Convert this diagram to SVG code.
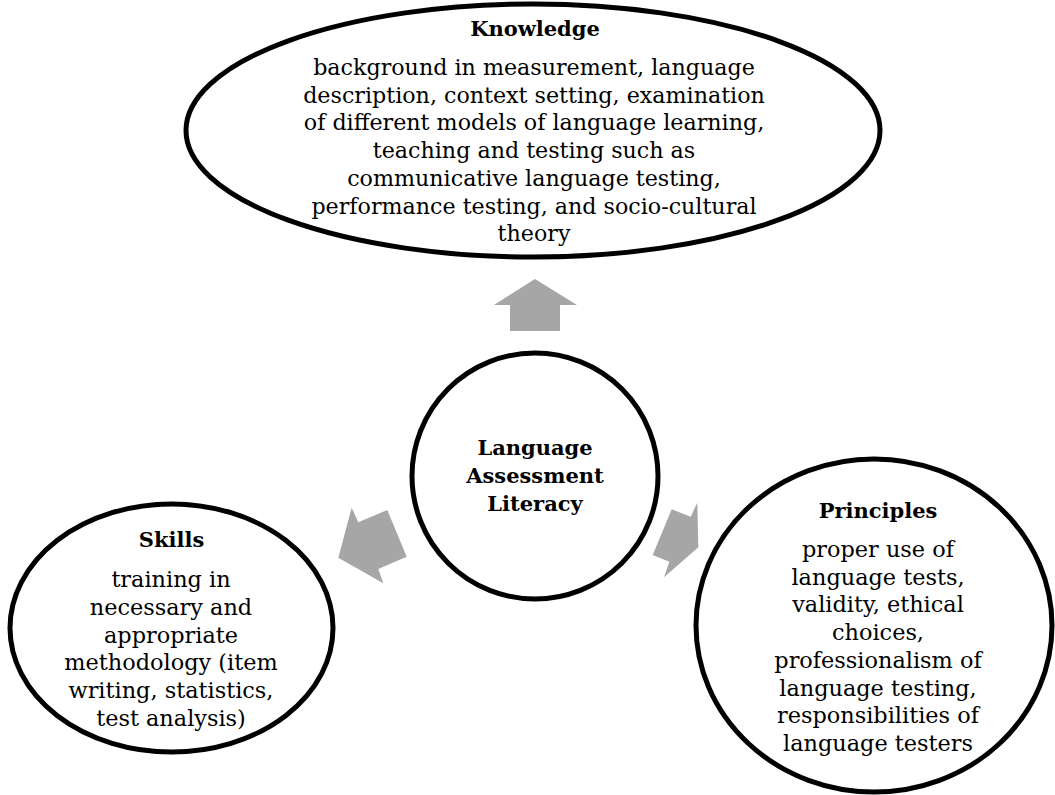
<svg xmlns="http://www.w3.org/2000/svg" width="1055" height="795" viewBox="0 0 1055 795">
<style>
.shape{fill:#ffffff;stroke:#000000;stroke-width:5}
.arrow{fill:#a6a6a6;stroke:none}
text{font-family:"DejaVu Serif","Liberation Serif",serif;fill:#000000;text-anchor:middle}
.title{font-weight:bold;font-size:21px}
.body{font-size:22.4px}
</style>
<rect x="0" y="0" width="1055" height="795" fill="#ffffff"/>
<g id="connectors">
<polygon class="arrow" points="535,279 577,305 560,305 560,331 510,331 510,305 494,305"/>
<polygon class="arrow" points="338.3,557.7 351.7,507.7 358.3,522.3 387.3,510 406.7,556.7 378.3,569 383.3,583.3"/>
<polygon class="arrow" points="671.7,509.3 690.7,516.7 697.3,502.7 698.3,547.3 664,577.3 669.3,561.7 652.7,555"/>
</g>
<g id="knowledge">
<ellipse class="shape" cx="533" cy="130.5" rx="347" ry="126.5"/>
<text class="title" x="535" y="36">Knowledge</text>
<text class="body" x="534" style="font-size:22.2px"><tspan x="534" y="75">background in measurement, language</tspan><tspan x="534" y="102.7">description, context setting, examination</tspan><tspan x="534" y="130.4">of different models of language learning,</tspan><tspan x="534" y="158.1">teaching and testing such as</tspan><tspan x="534" y="185.8">communicative language testing,</tspan><tspan x="534" y="213.5">performance testing, and socio-cultural</tspan><tspan x="534" y="241.2">theory</tspan></text>
</g>
<g id="center">
<circle class="shape" cx="535" cy="476" r="123"/>
<text class="title" x="535"><tspan x="535" y="455">Language</tspan><tspan x="535" y="483">Assessment</tspan><tspan x="535" y="511">Literacy</tspan></text>
</g>
<g id="skills">
<ellipse class="shape" cx="171.5" cy="628" rx="161.5" ry="124"/>
<text class="title" x="171.5" y="547">Skills</text>
<text class="body" x="171"><tspan x="171" y="587">training in</tspan><tspan x="171" y="614.8">necessary and</tspan><tspan x="171" y="642.6">appropriate</tspan><tspan x="171" y="670.4">methodology (item</tspan><tspan x="171" y="698.2">writing, statistics,</tspan><tspan x="171" y="726">test analysis)</tspan></text>
</g>
<g id="principles">
<ellipse class="shape" cx="874" cy="625.5" rx="178" ry="166.5"/>
<text class="title" x="878" y="518">Principles</text>
<text class="body" x="878"><tspan x="878" y="557">proper use of</tspan><tspan x="878" y="584.7">language tests,</tspan><tspan x="878" y="612.4">validity, ethical</tspan><tspan x="878" y="640.1">choices,</tspan><tspan x="878" y="667.8">professionalism of</tspan><tspan x="878" y="695.5">language testing,</tspan><tspan x="878" y="723.2">responsibilities of</tspan><tspan x="878" y="750.9">language testers</tspan></text>
</g>
</svg>
